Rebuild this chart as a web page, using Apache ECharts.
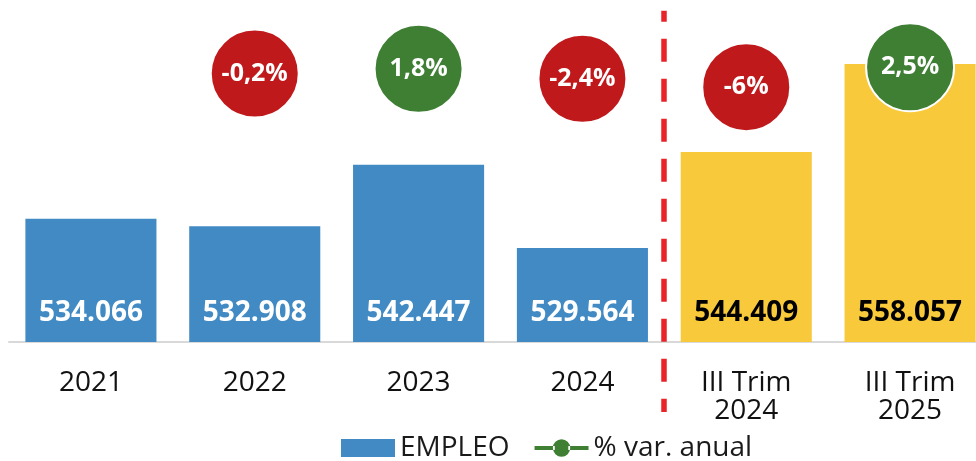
<!DOCTYPE html>
<html>
<head>
<meta charset="utf-8">
<script src="https://cdn.jsdelivr.net/npm/echarts@6/dist/echarts.min.js"></script>
<style>
html,body{margin:0;padding:0;background:#fff;}
#chart{width:976px;height:461px;}
</style>
</head>
<body>
<div id="chart"></div>
<script>
// ---- Data ----
const categories = ['2021', '2022', '2023', '2024', 'III Trim\n2024', 'III Trim\n2025'];
const empleo = [534066, 532908, 542447, 529564, 544409, 558057];
const variacion = [null, -0.2, 1.8, -2.4, -6, 2.5];
const seriesNames = ['EMPLEO', '% var. anual'];
const firstQuarterIndex = 4; // categories from here on are quarterly (yellow)

// ---- Styles ----
const FONT = 'Open Sans';
const BLUE = '#418AC4';
const YELLOW = '#F9C93C';
const RED = '#C0191C';
const GREEN = '#3E7F34';
const LINE_DOT_ICON = 'path://M0,6.8 H21 V11.2 H0 Z M35,6.8 H56 V11.2 H35 Z M19,9 A9,9 0 1,0 37,9 A9,9 0 1,0 19,9 Z';

function fmtThousands(v) {
  return String(v).replace(/\B(?=(\d{3})+(?!\d))/g, '.');
}
function fmtPct(v) {
  return String(v).replace('.', ',') + '%';
}

const barData = empleo.map((v, i) => {
  const q = i >= firstQuarterIndex;
  return {
    value: v,
    itemStyle: { color: q ? YELLOW : BLUE },
    label: { color: q ? '#000000' : '#FFFFFF' }
  };
});

const lineData = variacion.map(v => v === null ? null : {
  value: v,
  itemStyle: { color: v < 0 ? RED : GREEN }
});

const chart = echarts.init(document.getElementById('chart'), null, { renderer: 'canvas' });

const option = {
  animation: false,
  backgroundColor: '#ffffff',
  textStyle: { fontFamily: FONT },
  grid: { left: 9, right: -16, top: 32, bottom: 119, containLabel: false, outerBoundsMode: 'none' },
  legend: {
    left: 341,
    top: 434,
    padding: 0,
    itemWidth: 54,
    itemHeight: 18,
    itemGap: 25,
    textStyle: { fontFamily: FONT, fontSize: 28, color: '#1a1a1a', lineHeight: 28 },
    data: [
      { name: seriesNames[0], icon: 'rect' },
      { name: seriesNames[1], icon: LINE_DOT_ICON, itemStyle: { color: GREEN, borderWidth: 0 } }
    ]
  },
  xAxis: {
    type: 'category',
    data: categories,
    axisLine: { show: true, onZero: false, lineStyle: { color: '#D9D9D9', width: 2 } },
    axisTick: { show: false },
    axisLabel: {
      fontFamily: FONT, fontSize: 28, color: '#111111', margin: 27, lineHeight: 28, interval: 0
    }
  },
  yAxis: [
    {
      type: 'value', min: 515000, max: 563000, interval: 1000,
      show: false, splitLine: { show: false }
    },
    {
      type: 'value', min: -114.5, max: 17.5,
      show: false, splitLine: { show: false }
    }
  ],
  series: [
    {
      name: seriesNames[0],
      type: 'bar',
      data: barData,
      barWidth: '80%',
      itemStyle: { color: BLUE },
      label: {
        show: true,
        position: 'insideBottom',
        distance: 15,
        fontFamily: FONT,
        fontSize: 28,
        fontWeight: 'bold',
        lineHeight: 28,
        formatter: p => fmtThousands(p.value)
      },
      z: 2
    },
    {
      name: seriesNames[1],
      type: 'line',
      yAxisIndex: 1,
      data: lineData,
      symbol: 'circle',
      symbolSize: 88,
      connectNulls: false,
      lineStyle: { opacity: 0, width: 0 },
      itemStyle: { color: GREEN, borderColor: '#ffffff', borderWidth: 2 },
      label: {
        show: true,
        position: 'inside',
        fontFamily: FONT,
        fontSize: 25,
        fontWeight: 'bold',
        color: '#ffffff',
        formatter: p => fmtPct(p.value)
      },
      z: 5
    }
  ]
};

chart.setOption(option);

// dashed separator between annual and quarterly categories
const xa = chart.convertToPixel({ xAxisIndex: 0 }, firstQuarterIndex - 1);
const xb = chart.convertToPixel({ xAxisIndex: 0 }, firstQuarterIndex);
const sepX = Math.round((xa + xb) / 2);
chart.setOption({
  graphic: [{
    type: 'line',
    shape: { x1: sepX, y1: 10.7, x2: sepX, y2: 412 },
    style: { stroke: '#E8242A', lineWidth: 5.5, lineDash: [23, 17], lineDashOffset: 12 },
    z: 10
  }]
});
</script>
</body>
</html>
